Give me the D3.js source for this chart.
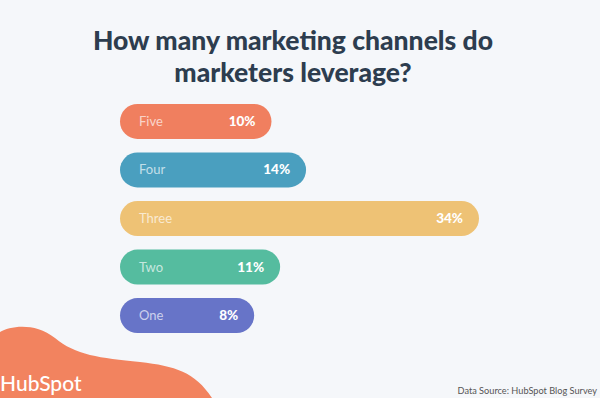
<!DOCTYPE html>
<html><head><meta charset="utf-8">
<script src="https://cdn.jsdelivr.net/npm/d3@7"></script>
<style>html,body{margin:0;padding:0;background:#f5f7fa;}svg{display:block;}</style>
</head><body>
<svg id="c" width="600" height="398"></svg>
<script>
const categories = ["Five","Four","Three","Two","One"];
const values = [10,14,34,11,8];
const valueLabels = ["10%","14%","34%","11%","8%"];
const colors = ["#f07f5f","#4a9fbf","#eec275","#55bc9f","#6774c8"];
const titleLines = ["How many marketing channels do","marketers leverage?"];
const source = "Data Source: HubSpot Blog Survey";

const svg = d3.select("#c");
svg.append("rect").attr("width",600).attr("height",398).attr("fill","#f5f7fa");

// blob
svg.append("path")
  .attr("d","M0,332 C10,326 35,322 55,338 C75,355 100,358 140,362 C175,366 195,372 212,398 L0,398 Z")
  .attr("fill","#f2835f");
svg.append("text").attr("x",0).attr("y",391)
  .attr("font-family","Lato, sans-serif").attr("font-weight",500)
  .attr("font-size",21).attr("fill","#fff").text("HubSpot");

titleLines.forEach((t,i)=>svg.append("text").attr("text-anchor","middle")
  .attr("font-family","Lato, sans-serif").attr("font-weight",900)
  .attr("font-size",26.5).attr("fill","#2d3d4f")
  .attr("x",293).attr("y",50+i*32).text(t));

const x0 = 120;
const w = d3.scaleLinear().domain([0,34]).range([65,359]);
const y = d3.scaleBand().domain(categories).range([104,333]).paddingInner(0.28).paddingOuter(0);

const g = svg.append("g");
const bars = g.selectAll("g.bar").data(categories).join("g").attr("class","bar");
bars.append("rect")
  .attr("x",x0).attr("y",d=>y(d))
  .attr("width",(d,i)=>w(values[i])).attr("height",y.bandwidth())
  .attr("rx",y.bandwidth()/2).attr("fill",(d,i)=>colors[i]);
bars.append("text").attr("x",x0+19).attr("y",d=>y(d)+y.bandwidth()/2+4.5)
  .attr("font-family","Lato, sans-serif").attr("font-size",13)
  .attr("fill","rgba(255,255,255,0.68)").text(d=>d);
bars.append("text").attr("x",(d,i)=>x0+w(values[i])-16).attr("y",d=>y(d)+y.bandwidth()/2+4.5)
  .attr("text-anchor","end")
  .attr("font-family","Lato, sans-serif").attr("font-weight",900).attr("font-size",13.5)
  .attr("fill","#fff").text((d,i)=>valueLabels[i]);

svg.append("text").attr("x",597).attr("y",394).attr("text-anchor","end")
  .attr("font-family","Lato, sans-serif").attr("font-size",9.2)
  .attr("fill","#555").text(source);
</script>
</body></html>
